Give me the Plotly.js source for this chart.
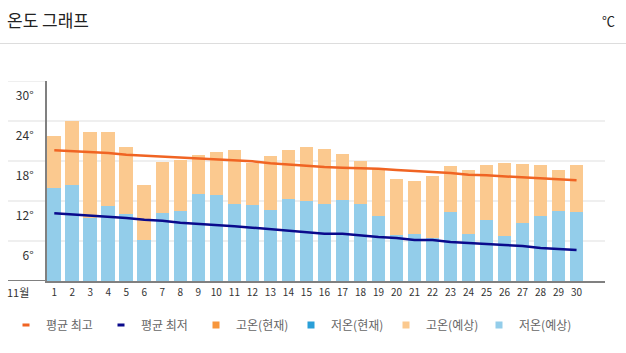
<!DOCTYPE html>
<html>
<head>
<meta charset="utf-8">
<script src="https://cdn.plot.ly/plotly-3.0.1.min.js"></script>
<style>html,body{margin:0;padding:0;background:#fff;}#chart{width:626px;height:353px;}</style>
</head>
<body>
<div id="chart"></div>
<script>
var days = [1,2,3,4,5,6,7,8,9,10,11,12,13,14,15,16,17,18,19,20,21,22,23,24,25,26,27,28,29,30];
var dayLabels = days.map(String);
var highForecast = [21.7,23.95,22.3,22.3,20.05,14.35,17.85,18.1,18.85,19.3,19.6,17.65,18.7,19.6,20.05,19.75,19.0,17.95,16.9,15.25,14.95,15.75,17.2,16.6,17.35,17.65,17.5,17.35,16.6,17.35];
var lowForecast = [13.95,14.35,9.4,11.25,10.05,6.1,10.15,10.5,13.0,12.85,11.6,11.35,10.6,12.25,12.0,11.6,12.1,11.6,9.7,6.85,7.0,6.5,10.35,7.0,9.1,6.7,8.7,9.7,10.5,10.35];
var avgHigh = [19.6,19.5,19.35,19.2,18.95,18.8,18.75,18.55,18.45,18.3,18.15,17.95,17.65,17.45,17.25,17.1,17.0,16.95,16.85,16.65,16.45,16.35,16.2,15.95,15.85,15.7,15.6,15.45,15.3,15.1];
var avgLow = [10.15,10.0,9.85,9.7,9.45,9.2,9.05,8.75,8.6,8.4,8.2,8.0,7.75,7.5,7.25,7.1,7.1,6.8,6.6,6.45,6.15,6.15,5.85,5.7,5.6,5.4,5.25,4.95,4.8,4.65];
var yTicks = [6,12,18,24,30];
var yTickText = ["6°","12°","18°","24°","30°"];
var seriesNames = ["평균 최고","평균 최저","고온(현재)","저온(현재)","고온(예상)","저온(예상)"];

var FONT = "'Noto Sans CJK KR', 'Noto Sans', sans-serif";
var cHigh = "#f06423", cLow = "#0a0a8c";
var cHighNow = "#f7963c", cLowNow = "#2a9fd8", cHighFc = "#fbc98f", cLowFc = "#93cdea";

var traces = [
  {type:"bar", x:days, y:highForecast, width:0.76, marker:{color:cHighFc}, showlegend:false, hoverinfo:"skip"},
  {type:"bar", x:days, y:lowForecast, width:0.76, marker:{color:cLowFc}, showlegend:false, hoverinfo:"skip"},
  {type:"scatter", mode:"lines", x:days, y:avgHigh, line:{color:cHigh, width:2.5}, showlegend:false, hoverinfo:"skip"},
  {type:"scatter", mode:"lines", x:days, y:avgLow, line:{color:cLow, width:2.5}, showlegend:false, hoverinfo:"skip"}
];
var legendColors = [cHigh, cLow, cHighNow, cLowNow, cHighFc, cLowFc];
seriesNames.forEach(function(n, i){
  var isLine = i < 2;
  traces.push({type:"scatter", mode:"markers", x:[null], y:[null], name:n,
    legend: i === seriesNames.length - 1 ? "legend2" : "legend",
    marker: isLine ? {symbol:"line-ew", size:5, color:legendColors[i], line:{color:legendColors[i], width:3}}
                   : {symbol:"square", size:7, color:legendColors[i], line:{width:0}},
    hoverinfo:"skip"});
});

var W = 558, H = 200;
var shapes = [];
yTicks.forEach(function(v){
  shapes.push({type:"line", xref:"paper", yref:"y", x0:-39/W, x1:0, y0:v, y1:v, line:{color:"#efefef", width:2}, layer:"below"});
});
shapes.push({type:"line", xref:"paper", yref:"y", x0:-39/W, x1:0, y0:0, y1:0, line:{color:"#808080", width:2}});
shapes.push({type:"line", xref:"paper", yref:"paper", x0:-47/W, x1:579/W, y0:(281-43.5)/H, y1:(281-43.5)/H, line:{color:"#dddddd", width:1}});

var legendBase = {orientation:"h", xref:"container", yref:"container", xanchor:"left", y:1-325/353, yanchor:"middle", font:{family:FONT, size:12, color:"#666"}, itemwidth:30, tracegroupgap:0, bgcolor:"rgba(0,0,0,0)"};

var layout = {
  width:626, height:353,
  margin:{l:47, r:21, t:81, b:72, pad:0},
  paper_bgcolor:"#fff", plot_bgcolor:"#fff",
  font:{family:FONT, color:"#333"},
  barmode:"overlay", bargap:0,
  hovermode:false,
  title:{text:"온도 그래프", font:{family:FONT, size:17, color:"#222"}, xref:"container", yref:"container", x:7/626, xanchor:"left", y:1-21/353, yanchor:"middle"},
  xaxis:{range:[0.595,31.58], tickvals:days, ticktext:dayLabels, tickfont:{size:10, color:"#333", family:FONT}, showgrid:false, zeroline:false, showline:true, linecolor:"#808080", linewidth:2, ticks:"", ticklabelstandoff:1, fixedrange:true},
  yaxis:{range:[0,30], tickvals:yTicks, ticktext:yTickText, tickfont:{size:12, color:"#333", family:FONT}, showgrid:true, gridcolor:"#efefef", gridwidth:2, zeroline:false, showline:true, linecolor:"#808080", linewidth:2, ticks:"", ticklabelstandoff:9, ticklabelshift:15, fixedrange:true},
  shapes:shapes,
  annotations:[
    {text:"11월", xref:"paper", yref:"paper", x:(18-47)/W, y:-(292-281)/H, xanchor:"center", yanchor:"middle", showarrow:false, font:{family:FONT, size:11, color:"#333"}},
    {text:"℃", xref:"paper", yref:"paper", x:(608-47)/W, y:(281-20)/H, xanchor:"center", yanchor:"middle", showarrow:false, font:{family:FONT, size:13, color:"#222"}}
  ],
  legend:Object.assign({}, legendBase, {x:6/626, entrywidth:50, entrywidthmode:"pixels"}),
  legend2:Object.assign({}, legendBase, {x:(503-24)/626})
};

Plotly.newPlot("chart", traces, layout, {displayModeBar:false, staticPlot:true});
</script>
</body>
</html>
